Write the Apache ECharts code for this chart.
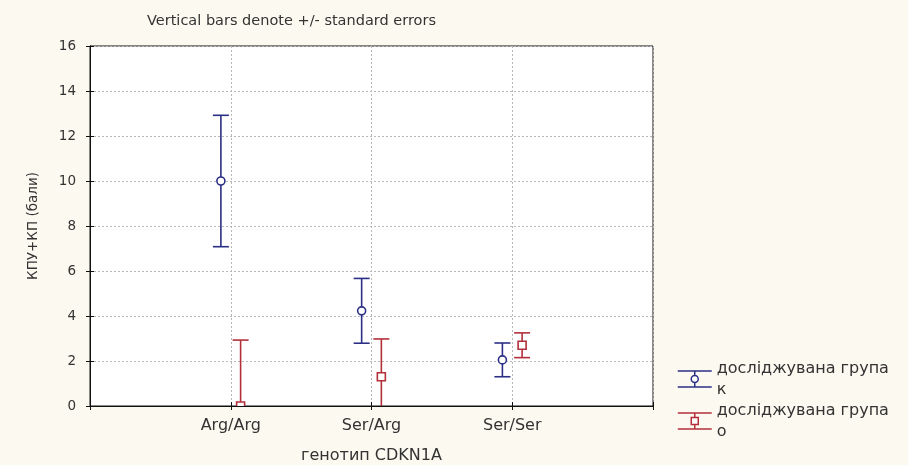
<!DOCTYPE html>
<html>
<head>
<meta charset="utf-8">
<script src="https://cdn.jsdelivr.net/npm/echarts@6/dist/echarts.min.js"></script>
<style>
html,body{margin:0;padding:0;background:#fcf9f0;}
#chart{width:908px;height:465px;}
</style>
</head>
<body>
<div id="chart"></div>
<script>
const categories = ['Arg/Arg', 'Ser/Arg', 'Ser/Ser'];
const meanK = [10.0, 4.23, 2.05];
const seK = [2.92, 1.44, 0.75];
const meanO = [0.0, 1.3, 2.7];
const seO = [2.93, 1.68, 0.55];
const yTicks = [0, 2, 4, 6, 8, 10, 12, 14, 16];
const seriesNames = ['досліджувана група\nк', 'досліджувана група\nо'];

const BLUE = '#2b2f86';
const RED = '#b3303a';
const FONT = 'DejaVu Sans';

function makeData(means, ses, shift) {
  return means.map((m, i) => [i + 1 + shift, m, ses[i]]);
}

function renderErr(color, square) {
  return function (params, api) {
    const x = api.value(0), m = api.value(1), se = api.value(2);
    const pM = api.coord([x, m]);
    const pU = api.coord([x, m + se]);
    const pL = api.coord([x, m - se]);
    const cw = 8, r = 4;
    const st = { stroke: color, lineWidth: 1.6 };
    const children = [
      { type: 'line', shape: { x1: pM[0], y1: pU[1], x2: pM[0], y2: pL[1] }, style: st },
      { type: 'line', shape: { x1: pM[0] - cw, y1: pU[1], x2: pM[0] + cw, y2: pU[1] }, style: st },
      { type: 'line', shape: { x1: pM[0] - cw, y1: pL[1], x2: pM[0] + cw, y2: pL[1] }, style: st }
    ];
    if (square) {
      children.push({ type: 'rect', shape: { x: pM[0] - r, y: pM[1] - r, width: 2 * r, height: 2 * r }, style: { fill: '#fff', stroke: color, lineWidth: 1.6 } });
    } else {
      children.push({ type: 'circle', shape: { cx: pM[0], cy: pM[1], r: r }, style: { fill: '#fff', stroke: color, lineWidth: 1.6 } });
    }
    return { type: 'group', children: children };
  };
}

const iconCircle = 'path://M0,0H34M17,0V4.5M17,11.5V16M0,16H34M20.5,8A3.5,3.5 0 1 1 13.5,8A3.5,3.5 0 1 1 20.5,8Z';
const iconSquare = 'path://M0,0H34M17,0V4.5M17,11.5V16M0,16H34M13.5,4.5H20.5V11.5H13.5Z';

const chart = echarts.init(document.getElementById('chart'), null, { renderer: 'canvas' });
chart.setOption({
  backgroundColor: '#fcf9f0',
  animation: false,
  title: {
    text: 'Vertical bars denote +/- standard errors',
    left: 142, top: 9,
    textStyle: { fontFamily: FONT, fontSize: 14.5, fontWeight: 'normal', color: '#333' }
  },
  legend: {
    orient: 'vertical',
    left: 672, top: 353,
    itemWidth: 34, itemHeight: 16, itemGap: 0,
    textStyle: { fontFamily: FONT, fontSize: 16, color: '#333', lineHeight: 21 },
    data: [
      { name: seriesNames[0], icon: iconCircle, itemStyle: { color: '#fff', borderColor: BLUE, borderWidth: 1.5 } },
      { name: seriesNames[1], icon: iconSquare, itemStyle: { color: '#fff', borderColor: RED, borderWidth: 1.5 } }
    ]
  },
  grid: {
    left: 90, top: 46, right: 255, bottom: 59,
    outerBoundsMode: 'none', containLabel: false,
    show: true, backgroundColor: '#fff', borderColor: '#111', borderWidth: 1
  },
  xAxis: [{
    type: 'value', min: 0, max: 4, interval: 1,
    name: 'генотип CDKN1A', nameLocation: 'middle', nameGap: 42,
    nameTextStyle: { fontFamily: FONT, fontSize: 16, color: '#333' },
    axisLine: { lineStyle: { color: '#111' } },
    axisTick: { inside: true, length: 4, lineStyle: { color: '#111' } },
    axisLabel: { fontFamily: FONT, fontSize: 16, color: '#333', margin: 12,
      formatter: v => categories[v - 1] || '' },
    splitLine: { show: true, lineStyle: { color: '#b8b8b8', type: [2, 2] } }
  }, {
    type: 'value', position: 'top', min: 0, max: 4, interval: 1,
    axisLine: { lineStyle: { color: '#111' } },
    axisTick: { inside: true, length: 4, lineStyle: { color: '#111' } },
    axisLabel: { show: false }, splitLine: { show: false }
  }],
  yAxis: [{
    type: 'value', min: yTicks[0], max: yTicks[yTicks.length - 1], interval: 2,
    name: 'КПУ+КП (бали)', nameLocation: 'middle', nameGap: 50,
    nameTextStyle: { fontFamily: FONT, fontSize: 13.5, color: '#333' },
    axisLine: { show: true, lineStyle: { color: '#111' } },
    axisTick: { show: true, inside: true, length: 4, lineStyle: { color: '#111' } },
    axisLabel: { fontFamily: FONT, fontSize: 13.5, color: '#333', margin: 14 },
    splitLine: { show: true, lineStyle: { color: '#b8b8b8', type: [2, 2] } }
  }, {
    type: 'value', position: 'right', min: yTicks[0], max: yTicks[yTicks.length - 1], interval: 2,
    axisLine: { show: true, lineStyle: { color: '#111' } },
    axisTick: { show: true, inside: true, length: 4, lineStyle: { color: '#111' } },
    axisLabel: { show: false }, splitLine: { show: false }
  }],
  series: [{
    name: seriesNames[0], type: 'custom', clip: true,
    itemStyle: { color: BLUE },
    renderItem: renderErr(BLUE, false),
    encode: { x: 0, y: 1 },
    data: makeData(meanK, seK, -0.07)
  }, {
    name: seriesNames[1], type: 'custom', clip: true,
    itemStyle: { color: RED },
    renderItem: renderErr(RED, true),
    encode: { x: 0, y: 1 },
    data: makeData(meanO, seO, 0.07)
  }]
});
</script>
</body>
</html>
